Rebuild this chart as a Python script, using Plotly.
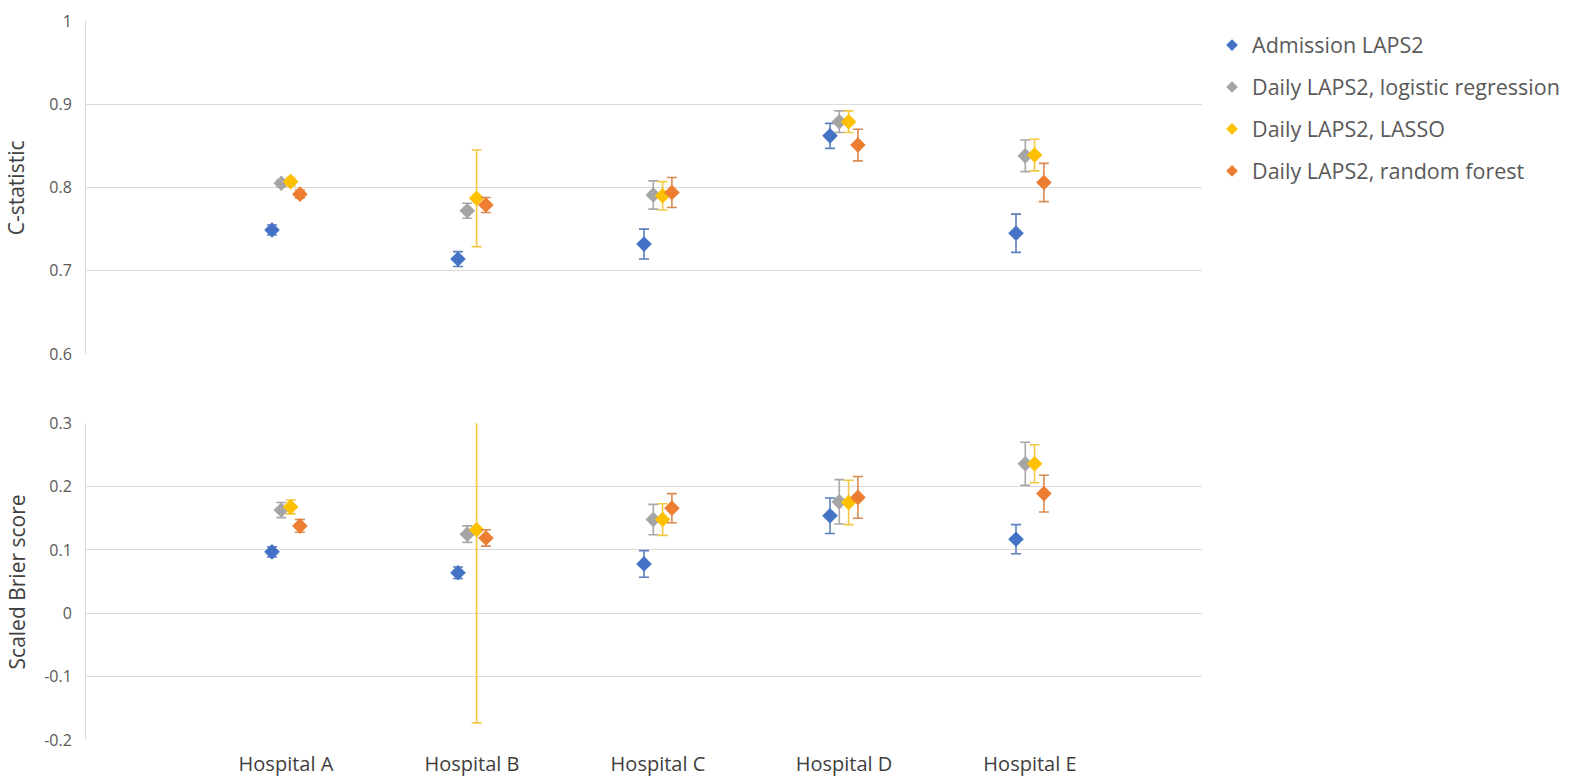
import plotly.graph_objects as go

# Hospitals and model names
hospitals = ["Hospital A", "Hospital B", "Hospital C", "Hospital D", "Hospital E"]
series_names = [
    "Admission LAPS2",
    "Daily LAPS2, logistic regression",
    "Daily LAPS2, LASSO",
    "Daily LAPS2, random forest",
]

# C-statistic (point estimate and 95% CI half-width), one list per model
c_admission = [0.749, 0.714, 0.732, 0.862, 0.745]
c_admission_err = [0.006, 0.009, 0.018, 0.015, 0.023]
c_logistic = [0.805, 0.772, 0.791, 0.879, 0.838]
c_logistic_err = [0.004, 0.009, 0.017, 0.013, 0.019]
c_lasso = [0.807, 0.787, 0.790, 0.879, 0.839]
c_lasso_err = [0.005, 0.058, 0.017, 0.013, 0.019]
c_forest = [0.792, 0.779, 0.794, 0.851, 0.806]
c_forest_err = [0.005, 0.009, 0.018, 0.019, 0.023]

# Scaled Brier score (point estimate and 95% CI half-width)
b_admission = [0.097, 0.064, 0.078, 0.154, 0.117]
b_admission_err = [0.008, 0.009, 0.021, 0.028, 0.023]
b_logistic = [0.163, 0.125, 0.148, 0.176, 0.236]
b_logistic_err = [0.012, 0.013, 0.024, 0.035, 0.034]
b_lasso = [0.168, 0.132, 0.148, 0.175, 0.236]
b_lasso_err = [0.011, 0.305, 0.025, 0.035, 0.030]
b_forest = [0.138, 0.119, 0.166, 0.183, 0.189]
b_forest_err = [0.010, 0.013, 0.023, 0.033, 0.029]

c_ticks = [0.6, 0.7, 0.8, 0.9, 1.0]
c_ticktext = ["0.6", "0.7", "0.8", "0.9", "1"]
b_ticks = [-0.2, -0.1, 0.0, 0.1, 0.2, 0.3]
b_ticktext = ["-0.2", "-0.1", "0", "0.1", "0.2", "0.3"]

colors = ["#4472C4", "#A5A5A5", "#FFC000", "#ED7D31"]
err_colors = ["#5B7FBF", "#A8A8A8", "#F5C842", "#D98A52"]
offsets = [0.0, 0.05, 0.10, 0.15]

c_values = [c_admission, c_logistic, c_lasso, c_forest]
c_errors = [c_admission_err, c_logistic_err, c_lasso_err, c_forest_err]
b_values = [b_admission, b_logistic, b_lasso, b_forest]
b_errors = [b_admission_err, b_logistic_err, b_lasso_err, b_forest_err]

FONT = "Open Sans"
TEXT_GRAY = "#595959"
TITLE_GRAY = "#404040"
GRID = "#D9D9D9"

fig = go.Figure()

for k, name in enumerate(series_names):
    xs = [i + 1 + offsets[k] for i in range(len(hospitals))]
    for vals, errs, xax, yax in ((c_values, c_errors, "x", "y"), (b_values, b_errors, "x2", "y2")):
        fig.add_trace(go.Scatter(
            x=xs, y=vals[k], mode="markers", name=name,
            legendgroup=name, showlegend=False,
            xaxis=xax, yaxis=yax,
            marker=dict(symbol="diamond", size=12, color=colors[k]),
            error_y=dict(type="data", array=errs[k], visible=True,
                         color=err_colors[k], thickness=1.6, width=5),
        ))
    # legend entry with a small diamond key
    fig.add_trace(go.Scatter(
        x=[None], y=[None], mode="markers", name=name, legendgroup=name,
        showlegend=True, xaxis="x", yaxis="y",
        marker=dict(symbol="diamond", size=9, color=colors[k]),
    ))

fig.update_layout(
    width=1572, height=779,
    margin=dict(l=86, r=370, t=21, b=39, autoexpand=False),
    paper_bgcolor="white", plot_bgcolor="white",
    font=dict(family=FONT, color=TEXT_GRAY),
    showlegend=True,
    legend=dict(
        x=1.009, y=0.995, xanchor="left", yanchor="top",
        font=dict(size=21.5, color=TEXT_GRAY, family=FONT),
        tracegroupgap=11, itemsizing="trace", itemwidth=30,
        bgcolor="rgba(0,0,0,0)",
    ),
    xaxis=dict(domain=[0, 1], range=[0, 6], showgrid=False, zeroline=False,
               showticklabels=False, anchor="y", fixedrange=True),
    xaxis2=dict(domain=[0, 1], range=[0, 6], showgrid=False, zeroline=False,
                tickvals=[i + 1.075 for i in range(len(hospitals))],
                ticktext=hospitals, ticks="", anchor="y2",
                automargin=False, ticklabelstandoff=10,
                tickfont=dict(size=20, color=TITLE_GRAY, family=FONT)),
    yaxis=dict(domain=[0.5369, 1.0], range=[0.6, 1.0],
               tickvals=c_ticks, ticktext=c_ticktext,
               showgrid=True, gridcolor=GRID, gridwidth=1, zeroline=False,
               showline=True, linecolor=GRID, linewidth=1, ticks="",
               automargin=False, ticklabelstandoff=10,
               tickfont=dict(size=16, color=TEXT_GRAY, family=FONT)),
    yaxis2=dict(domain=[0.0, 0.4405], range=[-0.2, 0.3],
                tickvals=b_ticks, ticktext=b_ticktext,
                showgrid=True, gridcolor=GRID, gridwidth=1, zeroline=False,
                showline=True, linecolor=GRID, linewidth=1, ticks="",
                automargin=False, ticklabelstandoff=10,
                tickfont=dict(size=16, color=TEXT_GRAY, family=FONT)),
)

# Rotated axis titles
for text, ymid in (("C-statistic", (0.5369 + 1.0) / 2), ("Scaled Brier score", 0.4405 / 2)):
    fig.add_annotation(
        text=text, xref="paper", yref="paper", x=-0.062, y=ymid,
        xanchor="center", yanchor="middle", textangle=-90, showarrow=False,
        font=dict(size=21, color=TITLE_GRAY, family=FONT),
    )

fig.write_html("out.html")
